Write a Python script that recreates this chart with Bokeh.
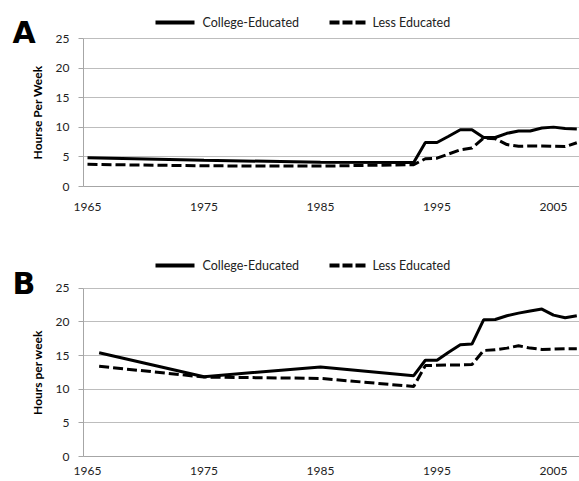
from bokeh.plotting import figure
from bokeh.layouts import column
from bokeh.models import FixedTicker, Label, Arrow, Range1d, LinearAxis, Grid
from bokeh.embed import file_html
from bokeh.resources import INLINE

# ---- data ----
a_years = [1965, 1975, 1985, 1993, 1994, 1995, 1996, 1997, 1998, 1999, 2000,
           2001, 2002, 2003, 2004, 2005, 2006, 2007]
a_college = [4.85, 4.45, 4.1, 4.05, 7.45, 7.45, 8.5, 9.6, 9.6, 8.3, 8.3,
             9.0, 9.4, 9.4, 9.9, 10.05, 9.8, 9.75]
a_less = [3.75, 3.5, 3.45, 3.7, 4.7, 4.8, 5.5, 6.2, 6.5, 8.2, 8.1,
          7.1, 6.8, 6.85, 6.85, 6.8, 6.75, 7.4]

b_years = [1966, 1975, 1985, 1993, 1994, 1995, 1996, 1997, 1998, 1999, 2000,
           2001, 2002, 2003, 2004, 2005, 2006, 2007]
b_college = [15.4, 11.85, 13.3, 12.0, 14.3, 14.3, 15.5, 16.6, 16.7, 20.3, 20.35,
             20.9, 21.3, 21.6, 21.9, 21.0, 20.6, 20.9]
b_less = [13.4, 11.8, 11.6, 10.4, 13.5, 13.55, 13.6, 13.6, 13.65, 15.75, 15.85,
          16.1, 16.45, 16.1, 15.9, 15.95, 16.0, 16.0]

x_ticks = [1965, 1975, 1985, 1995, 2005]
y_ticks = [0, 5, 10, 15, 20, 25]
series_names = ["College-Educated", "Less Educated"]
panel_letters = ["A", "B"]
y_titles = ["Hourse Per Week", "Hours per week"]

FONT = "Lato"
TXT = "#222222"
GRID = "#bdbdbd"
AXIS = "#a6a6a6"

W = 579
PX_PER_YEAR = 11.65
X_1965 = 87.0          # pixel position of 1965
FRAME_LEFT = 83.0      # pixel position of the y axis line
X0 = 1965 - X_1965 / PX_PER_YEAR
X1 = 1965 + (W - X_1965) / PX_PER_YEAR
X_AXIS_AT = 1965 - (X_1965 - FRAME_LEFT) / PX_PER_YEAR


def make_panel(years, college, less, letter, ytitle, height, y_top_px, y_zero_px,
               x_standoff, legend_y, letter_y):
    ppu = (y_zero_px - y_top_px) / 25.0
    y0 = -(height - y_zero_px) / ppu
    y1 = 25 + y_top_px / ppu
    p = figure(width=W, height=height, output_backend="svg", toolbar_location=None,
               x_range=Range1d(X0, X1), y_range=Range1d(y0, y1),
               x_axis_type=None, y_axis_type=None,
               min_border=0, min_border_left=0, min_border_right=0,
               min_border_top=0, min_border_bottom=0)
    p.outline_line_color = None
    p.background_fill_color = "white"
    p.border_fill_color = "white"

    grid = Grid(dimension=1, ticker=FixedTicker(ticks=y_ticks),
                grid_line_color=GRID, grid_line_width=1,
                cross_bounds=(X_AXIS_AT, X1))
    p.add_layout(grid)

    p.line(years, college, line_color="black", line_width=3)
    p.line(years, less, line_color="black", line_width=3, line_dash="10 4")

    yax = LinearAxis(fixed_location=X_AXIS_AT, bounds=(0, 25),
                     ticker=FixedTicker(ticks=y_ticks))
    yax.axis_line_color = AXIS
    yax.major_tick_line_color = AXIS
    yax.major_tick_out = 5
    yax.major_tick_in = 0
    yax.minor_tick_line_color = None
    yax.major_label_standoff = 9
    yax.axis_label = ytitle
    yax.axis_label_text_font = FONT
    yax.axis_label_text_font_style = "bold"
    yax.axis_label_text_font_size = "12px"
    yax.axis_label_text_color = "black"
    yax.axis_label_standoff = 8

    xax = LinearAxis(fixed_location=0, bounds=(X_AXIS_AT, X1),
                     ticker=FixedTicker(ticks=x_ticks))
    xax.axis_line_color = AXIS
    xax.major_tick_line_color = None
    xax.minor_tick_line_color = None
    xax.major_label_standoff = x_standoff
    for ax in (xax, yax):
        ax.major_label_text_font = FONT
        ax.major_label_text_font_size = "12px"
        ax.major_label_text_color = TXT
    p.add_layout(yax, "left")
    p.add_layout(xax, "below")

    # panel letter
    p.add_layout(Label(x=12, y=letter_y, x_units="screen", y_units="screen",
                       text=letter, text_font="DejaVu Sans", text_font_style="bold",
                       text_font_size="30px", text_color="black",
                       text_baseline="alphabetic"))
    # legend
    p.add_layout(Arrow(x_start=155, y_start=legend_y, x_end=194, y_end=legend_y,
                       start_units="screen", end_units="screen", end=None,
                       line_color="black", line_width=4))
    p.add_layout(Label(x=202, y=legend_y, x_units="screen", y_units="screen",
                       text=series_names[0], text_font=FONT, text_font_size="12.5px",
                       text_color=TXT, text_baseline="middle"))
    p.add_layout(Arrow(x_start=329, y_start=legend_y, x_end=366, y_end=legend_y,
                       start_units="screen", end_units="screen", end=None,
                       line_color="black", line_width=4, line_dash="10 3"))
    p.add_layout(Label(x=372, y=legend_y, x_units="screen", y_units="screen",
                       text=series_names[1], text_font=FONT, text_font_size="12.5px",
                       text_color=TXT, text_baseline="middle"))
    return p


pa = make_panel(a_years, a_college, a_less, panel_letters[0], y_titles[0],
                height=240, y_top_px=38.3, y_zero_px=186.0, x_standoff=10,
                legend_y=240 - 22, letter_y=240 - 32)
pb = make_panel(b_years, b_college, b_less, panel_letters[1], y_titles[1],
                height=241, y_top_px=47.7, y_zero_px=216.0, x_standoff=4,
                legend_y=241 - 25, letter_y=241 - 43)

layout = column(pa, pb, spacing=0)
open("out.html", "w").write(file_html(layout, INLINE))
